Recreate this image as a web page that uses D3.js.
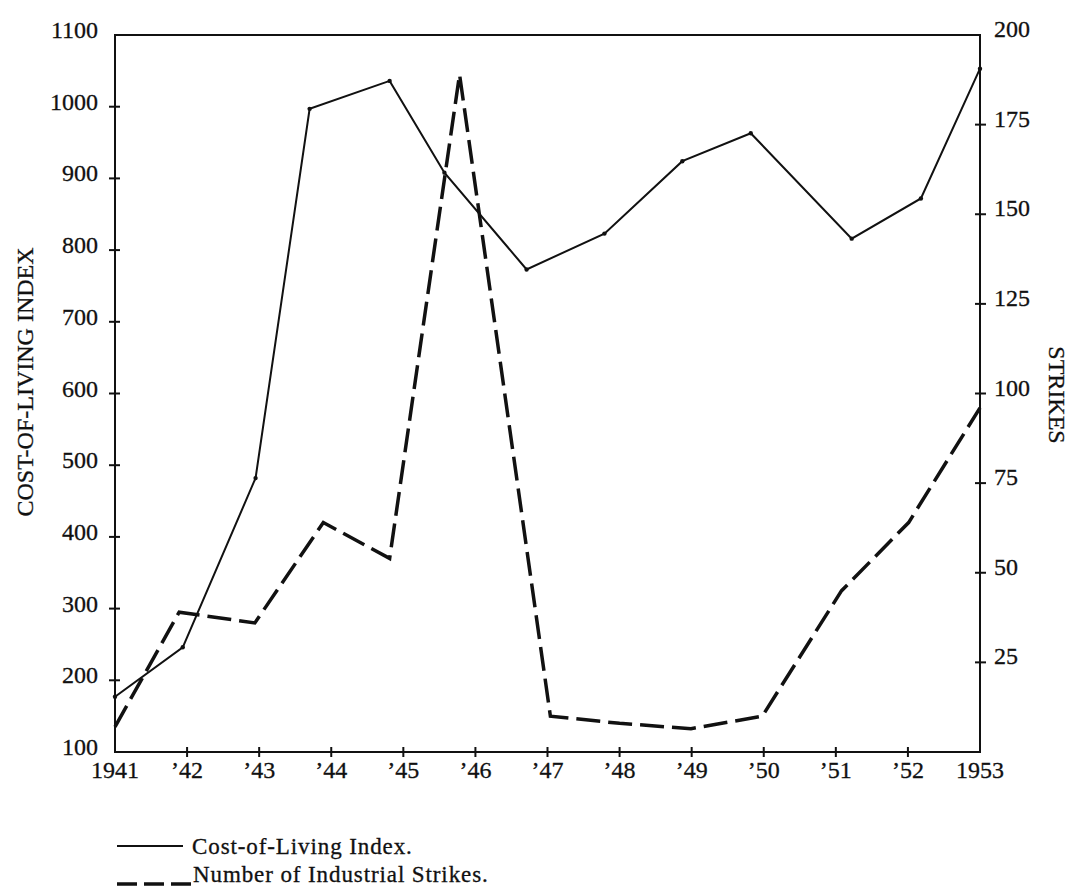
<!DOCTYPE html>
<html>
<head>
<meta charset="utf-8">
<script src="https://cdn.jsdelivr.net/npm/d3@7"></script>
<style>
  body { margin: 0; background: #fff; }
  svg text { font-family: 'Liberation Serif', 'DejaVu Serif', serif; fill: #111; stroke: #111; stroke-width: 0.3; }
  .axis-line { stroke: #111; stroke-width: 2; fill: none; }
  .tick-mark { stroke: #111; stroke-width: 2; }
  .line-cost { stroke: #111; stroke-width: 2; fill: none; }
  .line-strikes { stroke: #111; stroke-width: 3.5; fill: none; stroke-dasharray: 24,8; }
</style>
</head>
<body>
<div id="chart"></div>
<script>
'use strict';

// values (x positions in fractional years)
var costYears = [ 1941, 1941.94, 1942.95, 1943.7, 1944.81, 1945.57, 1946.71, 1947.79, 1948.87, 1949.82, 1951.22, 1952.18, 1953 ];
var costValues = [ 177, 246, 482, 997, 1036, 908, 773, 823, 924, 963, 816, 872, 1053 ];

var strikeYears = [ 1941, 1941.89, 1942.94, 1943.89, 1944.81, 1945.78, 1947.04, 1948, 1948.99, 1949.98, 1951.08, 1952.01, 1953 ];
var strikeValues = [ 7, 39, 36, 64, 54, 189, 10, 8, 6.5, 10, 45, 64, 96 ];

var xTickValues = [ 1941, 1942, 1943, 1944, 1945, 1946, 1947, 1948, 1949, 1950, 1951, 1952, 1953 ];
var xTickLabels = [ '1941', '\u201942', '\u201943', '\u201944', '\u201945', '\u201946', '\u201947', '\u201948', '\u201949', '\u201950', '\u201951', '\u201952', '1953' ];
var leftTicks = [ 100, 200, 300, 400, 500, 600, 700, 800, 900, 1000, 1100 ];
var rightTicks = [ 25, 50, 75, 100, 125, 150, 175, 200 ];

var legendLabels = [ 'Cost-of-Living Index.', 'Number of Industrial Strikes.' ];

var margin = { top: 35, right: 91, bottom: 134, left: 115 },
    baseWidth = 1071,
    baseHeight = 886,
    width = baseWidth - margin.left - margin.right,
    height = baseHeight - margin.top - margin.bottom;

var x = d3.scaleLinear().domain( [ 1941, 1953 ] ).range( [ 0, width ] );
var yLeft = d3.scaleLinear().domain( [ 100, 1100 ] ).range( [ height, 0 ] );
var yRight = d3.scaleLinear().domain( [ 0, 200 ] ).range( [ height, 0 ] );

var svg = d3.select( '#chart' )
  .append( 'svg' )
    .attr( 'width', baseWidth )
    .attr( 'height', baseHeight )
  .append( 'g' )
    .attr( 'transform', 'translate(' + margin.left + ',' + margin.top + ')' );

// frame
svg.append( 'rect' )
  .attr( 'class', 'axis-line' )
  .attr( 'x', 0 )
  .attr( 'y', 0 )
  .attr( 'width', width )
  .attr( 'height', height );

// Add the X Axis (ticks cross the line)
var xAxis = svg.append( 'g' )
  .attr( 'transform', 'translate(0,' + height + ')' );

xAxis.selectAll( 'line' )
  .data( xTickValues.slice( 1, -1 ) )
  .enter().append( 'line' )
    .attr( 'class', 'tick-mark' )
    .attr( 'x1', function( d ) { return x( d ); } )
    .attr( 'x2', function( d ) { return x( d ); } )
    .attr( 'y1', -5 )
    .attr( 'y2', 5 );

xAxis.selectAll( 'text' )
  .data( xTickValues )
  .enter().append( 'text' )
    .attr( 'x', function( d ) { return x( d ); } )
    .attr( 'y', 26 )
    .style( 'text-anchor', 'middle' )
    .style( 'font-size', '24px' )
    .text( function( d, i ) { return xTickLabels[i]; } );

// Add the left Y Axis
var leftAxis = svg.append( 'g' );

leftAxis.selectAll( 'line' )
  .data( leftTicks.slice( 1, -1 ) )
  .enter().append( 'line' )
    .attr( 'class', 'tick-mark' )
    .attr( 'x1', -6 )
    .attr( 'x2', 5 )
    .attr( 'y1', function( d ) { return yLeft( d ); } )
    .attr( 'y2', function( d ) { return yLeft( d ); } );

leftAxis.selectAll( 'text' )
  .data( leftTicks )
  .enter().append( 'text' )
    .attr( 'x', -17 )
    .attr( 'y', function( d ) { return yLeft( d ) + 3; } )
    .style( 'text-anchor', 'end' )
    .style( 'font-size', '24px' )
    .text( function( d ) { return d; } );

// Add the right Y Axis
var rightAxis = svg.append( 'g' )
  .attr( 'transform', 'translate(' + width + ',0)' );

rightAxis.selectAll( 'line' )
  .data( rightTicks.slice( 0, -1 ) )
  .enter().append( 'line' )
    .attr( 'class', 'tick-mark' )
    .attr( 'x1', -5 )
    .attr( 'x2', 6 )
    .attr( 'y1', function( d ) { return yRight( d ); } )
    .attr( 'y2', function( d ) { return yRight( d ); } );

rightAxis.selectAll( 'text' )
  .data( rightTicks )
  .enter().append( 'text' )
    .attr( 'x', 14 )
    .attr( 'y', function( d ) { return yRight( d ) + 2; } )
    .style( 'text-anchor', 'start' )
    .style( 'font-size', '24px' )
    .text( function( d ) { return d; } );

// axis titles
svg.append( 'text' )
  .attr( 'transform', 'translate(' + ( -82 ) + ',' + ( 347 ) + ') rotate(-90)' )
  .style( 'text-anchor', 'middle' )
  .style( 'font-size', '24px' )
  .text( 'COST-OF-LIVING INDEX' );

svg.append( 'text' )
  .attr( 'transform', 'translate(' + ( width + 69 ) + ',' + ( 360 ) + ') rotate(90)' )
  .style( 'text-anchor', 'middle' )
  .style( 'font-size', '24px' )
  .text( 'STRIKES' );

// lines
var costData = costYears.map( function( d, i ) { return { x: d, y: costValues[i] }; } );
var strikeData = strikeYears.map( function( d, i ) { return { x: d, y: strikeValues[i] }; } );

var costLine = d3.line()
  .x( function( d ) { return x( d.x ); } )
  .y( function( d ) { return yLeft( d.y ); } );

var strikeLine = d3.line()
  .x( function( d ) { return x( d.x ); } )
  .y( function( d ) { return yRight( d.y ); } );

svg.append( 'path' )
  .attr( 'class', 'line-strikes' )
  .attr( 'd', strikeLine( strikeData ) );

svg.append( 'path' )
  .attr( 'class', 'line-cost' )
  .attr( 'd', costLine( costData ) );

svg.selectAll( 'circle.cost-dot' )
  .data( costData )
  .enter().append( 'circle' )
    .attr( 'class', 'cost-dot' )
    .attr( 'cx', function( d ) { return x( d.x ); } )
    .attr( 'cy', function( d ) { return yLeft( d.y ); } )
    .attr( 'r', 2.2 )
    .style( 'fill', '#111' );

// legend, below the plot
var legendPositions = [
  [ 2, height + 94 ],
  [ 2, height + 122 ]
];
var legendClasses = [ 'line-cost', 'line-strikes' ];
var legendLengths = [ 66, 76 ];
var legendOffsets = [ 0, 10 ];

legendLabels.forEach( function( label, i ) {
  var pos = legendPositions[i];
  svg.append( 'line' )
    .attr( 'class', legendClasses[i] )
    .style( 'stroke-dasharray', i === 1 ? '20,7' : null )
    .attr( 'x1', pos[0] )
    .attr( 'x2', pos[0] + legendLengths[i] )
    .attr( 'y1', pos[1] + legendOffsets[i] )
    .attr( 'y2', pos[1] + legendOffsets[i] );

  svg.append( 'text' )
    .attr( 'x', pos[0] + legendLengths[i] + ( i === 1 ? 0 : 9 ) )
    .attr( 'y', pos[1] + 8 )
    .style( 'font-size', '23px' )
    .style( 'letter-spacing', '0.9px' )
    .text( label );
} );
</script>
</body>
</html>
